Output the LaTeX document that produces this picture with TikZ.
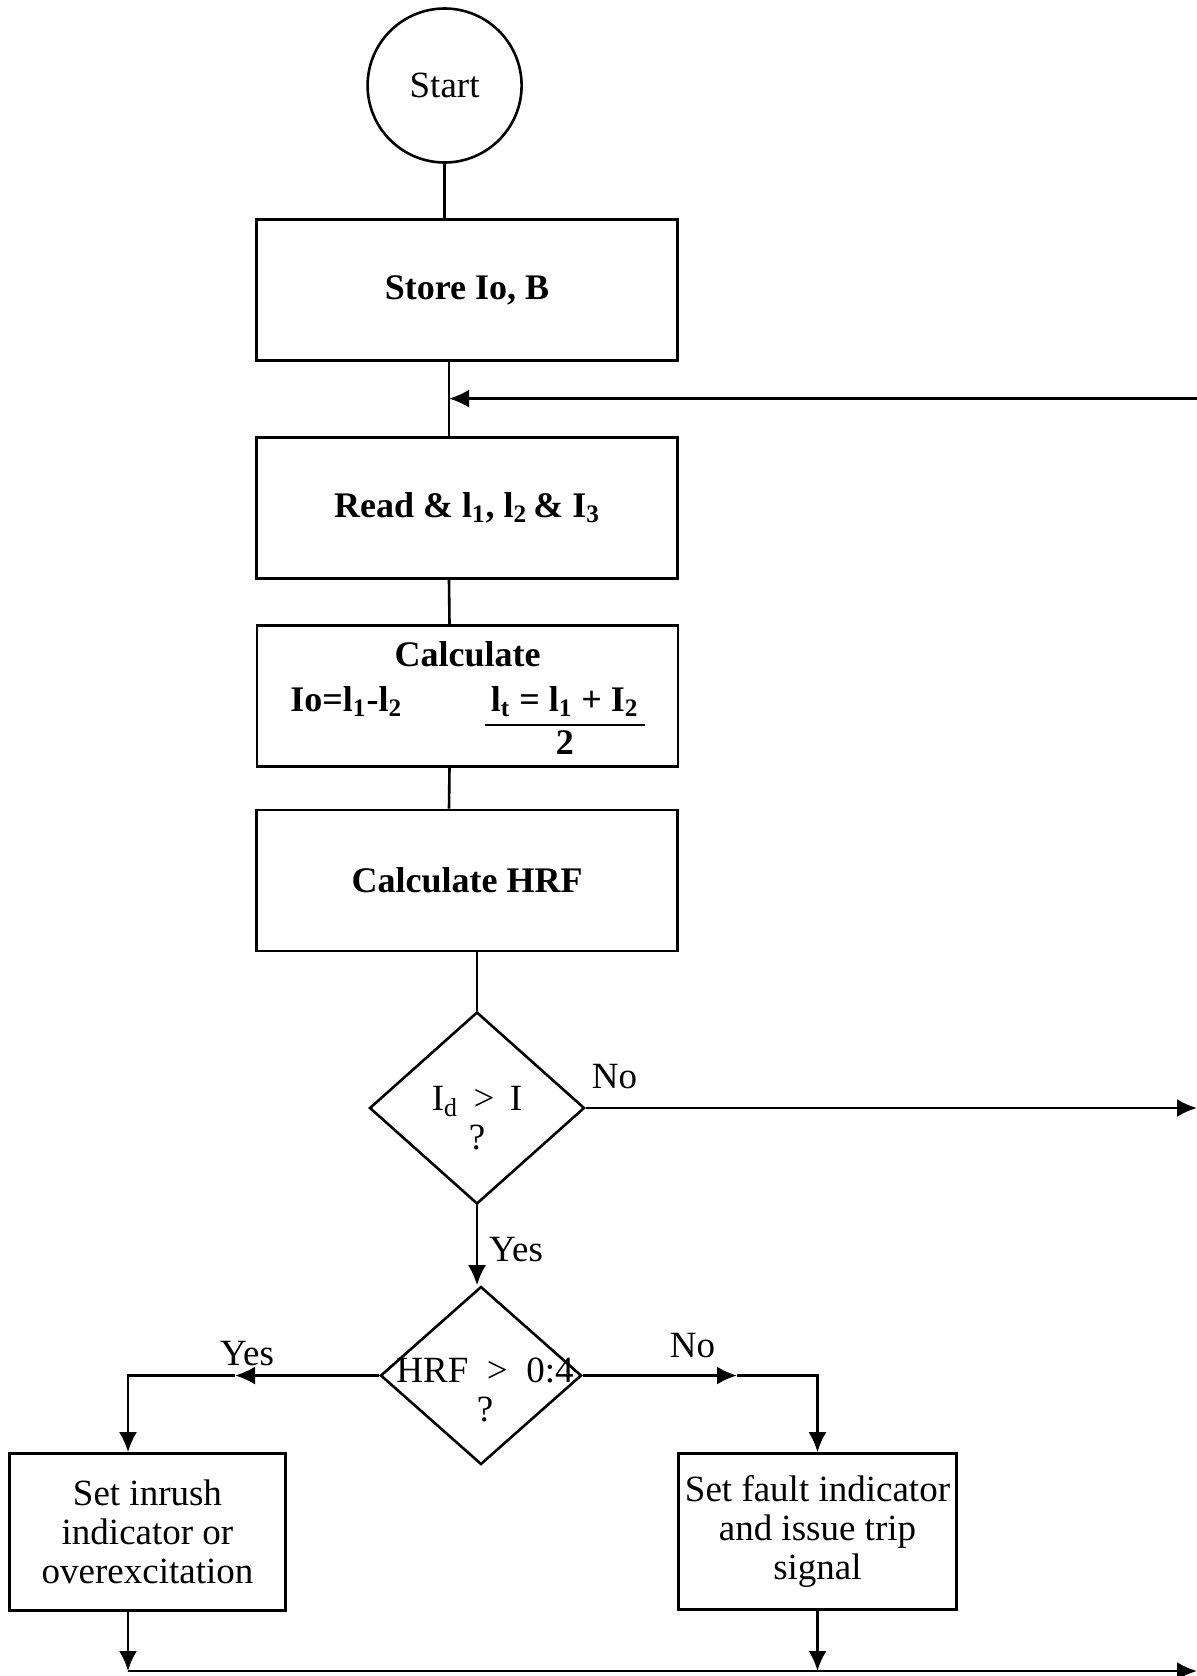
\documentclass[tikz,border=0pt]{standalone}
\usepackage{fontspec}
\setmainfont{Liberation Serif}
\usepackage{tikz}
\usetikzlibrary{shapes.geometric,arrows.meta}

\begin{document}
\begin{tikzpicture}[x=0.5pt, y=-0.5pt, line width=1.3pt,
    every node/.style={font=\fontsize{18.5}{19.5}\selectfont},
    procbox/.style={draw, rectangle, minimum width=210.5pt, minimum height=70.5pt, align=center, font=\fontsize{18}{19.5}\selectfont\bfseries},
    endbox/.style={draw, rectangle, align=center, inner sep=0pt},
    decision/.style={draw, diamond, inner sep=0pt},
    arr/.style={-{Latex[length=10pt,width=9pt]}}]
    \useasboundingbox (0,0) rectangle (1197,1676);

    % Start and process boxes
    \node[draw, circle, minimum size=77pt, inner sep=0pt] (start) at (444.6,85.5) {Start};
    \node[procbox] (store) at (467,290) {Store Io, B};
    \node[procbox] (read) at (467,508) {Read \& l\textsubscript{1}, l\textsubscript{2}\,\& I\textsubscript{3}};
    \node[procbox, inner ysep=0pt] (calc) at (467.5,696) {\rule{0pt}{20.5pt}Calculate\\[3pt]
        Io=l\textsubscript{1}-l\textsubscript{2}\hspace{2.3em}{\renewcommand\arraystretch{1.05}\setlength\arrayrulewidth{1pt}%
        \begin{tabular}[t]{@{\,}c@{\,}}l\textsubscript{t} = l\textsubscript{1} + I\textsubscript{2}\\\hline 2\end{tabular}}};
    \node[procbox] (hrf) at (467,880.5) {Calculate HRF};

    % Decisions
    \node[decision, minimum width=107.5pt, minimum height=96pt] (idiff) at (477,1108) {};
    \node[align=center] (idifftxt) at ([yshift=-5pt]idiff.center) {I\textsubscript{d}\,\ >\ \,I\\?};
    \node[decision, minimum width=100.5pt, minimum height=89pt] (hrfchk) at (481,1375.5) {};
    \node[align=center] (hrfchktxt) at ([xshift=2pt,yshift=-7pt]hrfchk.center) {HRF\enspace>\enspace0:4\\?};

    % Branch labels
    \node (lblno1) at (614.5,1077) {No};
    \node (lblyes1) at (516,1250) {Yes};
    \node (lblyes2) at (247,1354) {Yes};
    \node (lblno2) at (692.5,1345.5) {No};

    % Result boxes
    \node[endbox, minimum width=138pt, minimum height=78.5pt] (inrush) at (147.5,1532) {Set inrush\\indicator or\\overexcitation};
    \node[endbox, minimum width=139pt, minimum height=78pt] (fault) at (817.5,1531.5) {Set fault indicator\\and issue trip\\signal};

    % Main trunk
    \draw (start.south) -- (start.south |- store.north);
    \draw ([xshift=-9pt]store.south) -- ([xshift=-9pt]read.north);
    \draw ([xshift=-9pt]read.south) -- ([xshift=-9pt]calc.north);
    \draw ([xshift=-9pt]calc.south) -- ([xshift=-9pt]hrf.north);
    \draw (idiff.north |- hrf.south) -- (idiff.north);
    \draw[arr] (idiff.south) -- (idiff.south |- hrfchk.north);

    % Loop back and exits
    \coordinate (loopin) at (449,398.6);
    \coordinate (loopR) at (1197,398.6);
    \draw[arr] (loopR) -- (loopin);
    \coordinate (noR) at (1197,1108);
    \draw[arr] (idiff.east) -- (noR);

    % Yes / No branches
    \coordinate (yesmid) at (235,1375.5);
    \coordinate (yescorner) at (128,1375.5);
    \draw[arr] (hrfchk.west) -- (yesmid);
    \draw[arr] (yesmid) -- (yescorner) -- (yescorner |- inrush.north);
    \coordinate (nomid) at (737,1375.5);
    \draw[arr] (hrfchk.east) -- (nomid);
    \draw[arr] (nomid) -- (nomid -| fault.north) -- (fault.north);

    % Bottom line
    \coordinate (busL) at (128,1671);
    \coordinate (busR) at (1197,1671);
    \draw[arr] (yescorner |- inrush.south) -- (yescorner |- busL);
    \draw[arr] (fault.south) -- (fault.south |- busL);
    \draw[arr] (busL) -- (busR);
\end{tikzpicture}
\end{document}
